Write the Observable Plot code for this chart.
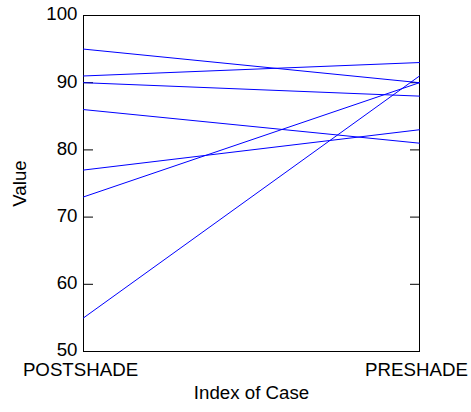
<!DOCTYPE html>
<html>
<head>
<meta charset="utf-8">
<script src="https://cdn.jsdelivr.net/npm/d3@7"></script>
<script src="https://cdn.jsdelivr.net/npm/@observablehq/plot@0.6"></script>
<style>
  html, body { margin: 0; padding: 0; background: #fff; }
</style>
</head>
<body>
<div id="chart"></div>
<script>
// Paired measurements for each case, before and after shading
const categories = ["POSTSHADE", "PRESHADE"];
const postshade = [95, 91, 90, 86, 77, 73, 55];
const preshade  = [90, 93, 88, 81, 83, 90, 91];
const yTicks = [50, 60, 70, 80, 90, 100];

// Long-format rows: one per case per condition
const rows = postshade.flatMap((v, i) => [
  {case: i + 1, condition: categories[0], value: v},
  {case: i + 1, condition: categories[1], value: preshade[i]}
]);

const chart = Plot.plot({
  width: 471,
  height: 412,
  marginLeft: 83,
  marginRight: 52,
  marginTop: 15,
  marginBottom: 61,
  style: {
    fontFamily: "'Liberation Sans', Arial, Helvetica, sans-serif",
    fontSize: "18.7px",
    color: "#000",
    background: "#fff"
  },
  x: {type: "point", domain: categories, padding: 0},
  y: {domain: [50, 100]},
  marks: [
    Plot.frame({stroke: "#000"}),
    // tick labels on the left, inward ticks on both sides
    Plot.axisY(yTicks, {anchor: "left", tickSize: 0, tickPadding: 6, dy: -1, label: "Value", labelAnchor: "center", labelArrow: "none", labelOffset: 71}),
    Plot.axisY(yTicks, {anchor: "left", fill: "none", tickSize: 10, dx: 10, stroke: "#000"}),
    Plot.axisY(yTicks, {anchor: "right", fill: "none", tickSize: 10, dx: -10, stroke: "#000"}),
    Plot.axisX({anchor: "bottom", tickSize: 0, tickPadding: 11, dx: -3, label: "Index of Case", labelAnchor: "center", labelOffset: 47}),
    Plot.line(rows, {x: "condition", y: "value", z: "case", stroke: "#0000ff", strokeWidth: 1})
  ]
});

document.getElementById("chart").appendChild(chart);
</script>
</body>
</html>
